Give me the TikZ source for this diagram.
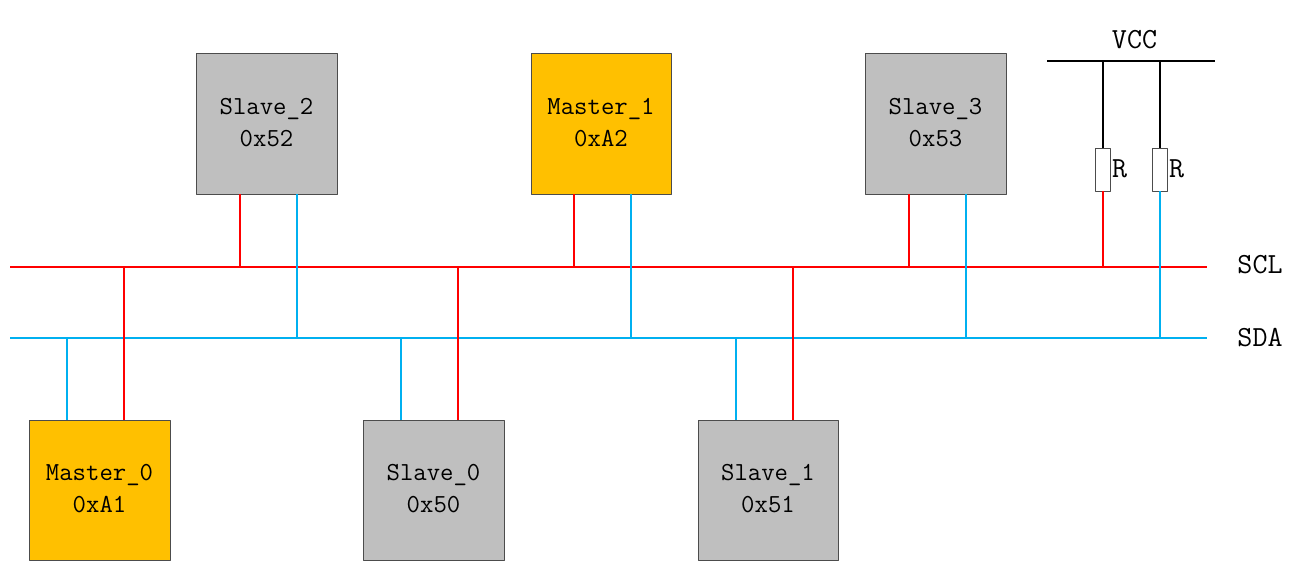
\documentclass[tikz,border=0pt]{standalone}
\tikzset{
	devbox/.style={draw=black!70,line width=0.5pt,minimum width=2.82cm,minimum height=2.82cm,inner sep=0pt,align=center,font=\ttfamily\fontsize{14.8}{18.2}\selectfont,execute at end node={\rule[-1.4pt]{0pt}{0pt}}},
	masterbox/.style={devbox,fill=masterfill},
	slavebox/.style={devbox,fill=slavefill},
	lowrow/.style={minimum height=2.8cm},
	narrow/.style={minimum width=2.8cm},
	resbox/.style={draw=black!70,fill=white,line width=0.5pt,minimum width=0.29cm,minimum height=0.86cm,inner sep=0pt},
	txt/.style={font=\ttfamily\fontsize{16.6}{18.2}\selectfont,inner sep=0pt},
	scl/.style={draw=sclred,line width=1.1pt},
	sda/.style={draw=sdablue,line width=1.1pt},
	vcc/.style={draw=black,line width=1.1pt}
}
\definecolor{masterfill}{HTML}{FFC000}
\definecolor{slavefill}{HTML}{BFBFBF}
\definecolor{sclred}{HTML}{FF0000}
\definecolor{sdablue}{HTML}{00B0F0}
\begin{document}
\begin{tikzpicture}[line join=round,x=0.02cm,y=-0.02cm]
	\useasboundingbox (0,0) rectangle (1310,581);
	\path (10,267) coordinate (SCLa)
	(1207,267) coordinate (SCLb)
	(10,338) coordinate (SDAa)
	(1207,338) coordinate (SDAb)
	(1047,61) coordinate (VCCa)
	(1215,61) coordinate (VCCb)
	(1103,61) coordinate (Va)
	(1160,61) coordinate (Vb)
	(1103,267) coordinate (Ja)
	(1160,338) coordinate (Jb)
	;
	\node[masterbox,lowrow] (M0) at (99.5,490) {Master\_0\\0xA1};
	\node[slavebox,lowrow] (S0) at (433.5,490) {Slave\_0\\0x50};
	\node[slavebox,lowrow,narrow] (S1) at (768,490) {Slave\_1\\0x51};
	\node[slavebox] (S2) at (266.5,123.5) {Slave\_2\\0x52};
	\node[masterbox,narrow] (M1) at (601,123.5) {Master\_1\\0xA2};
	\node[slavebox] (S3) at (935.5,123.5) {Slave\_3\\0x53};
	\node[resbox] (R1) at (1103,169.5) {};
	\node[resbox] (R2) at (1160,169.5) {};
	\node[txt] (rlabel1) at (1119.5,168.5) {R};
	\node[txt] (rlabel2) at (1176.5,168.5) {R};
	\node[txt] (vcclabel) at (1134.5,40) {VCC};
	\node[txt] (scllabel) at (1260,264.5) {SCL};
	\node[txt] (sdalabel) at (1260,337.5) {SDA};
	% buses
	\draw[scl] (SCLa)--(SCLb);
	\draw[sda] (SDAa)--(SDAb);
	\draw[vcc] (VCCa)--(VCCb);
	% upper row
	\foreach \t/\g/\h in {S2/240/297,M1/574/631,S3/909/966}{
		\draw[scl] (\g,267)--(\g,267 |- \t.south);
		\draw[sda] (\h,338)--(\h,338 |- \t.south);
	}
	% lower row
	\foreach \t/\g/\h in {M0/124/67,S0/458/401,S1/793/736}{
		\draw[sda] (\h,338)--(\h,338 |- \t.north);
		\draw[scl] (\g,267)--(\g,267 |- \t.north);
	}
	% pull-ups
	\draw[vcc] (Va)--(R1.north);
	\draw[vcc] (Vb)--(R2.north);
	\draw[scl] (R1.south)--(Ja);
	\draw[sda] (R2.south)--(Jb);
\end{tikzpicture}
\end{document}
